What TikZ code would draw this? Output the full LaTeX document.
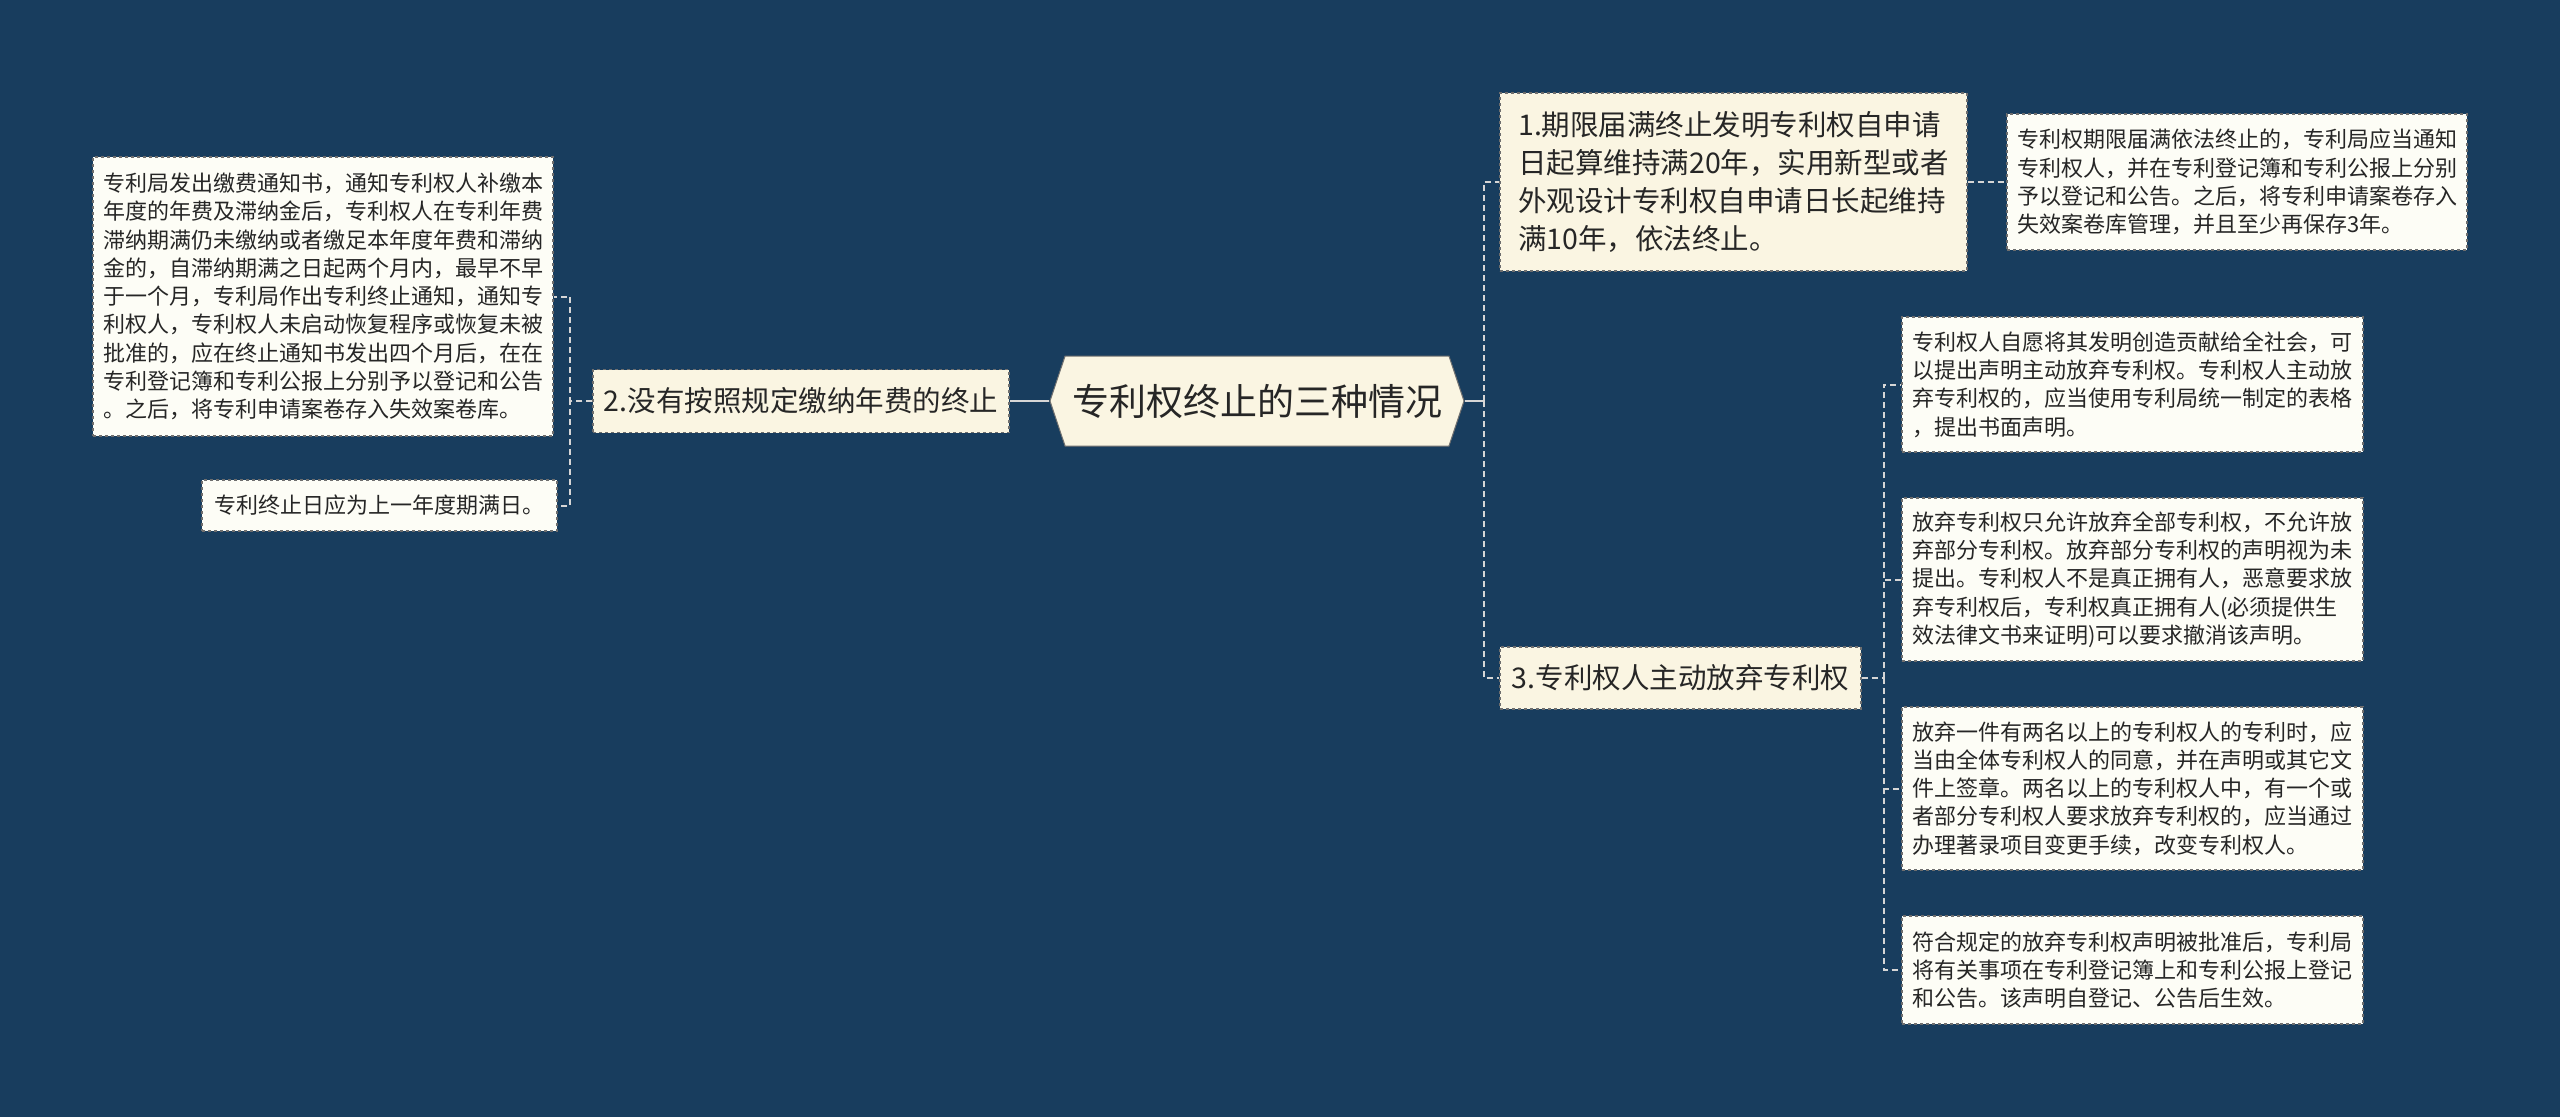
\documentclass[tikz,border=0pt]{standalone}
\usepackage{fontspec}
\newfontfamily\cjk{Noto Sans CJK SC}
\usetikzlibrary{shapes.symbols}
\definecolor{bgnavy}{RGB}{24,61,94}
\definecolor{nodecream}{RGB}{250,245,226}
\definecolor{leafcream}{RGB}{253,253,246}
\definecolor{edgegray}{RGB}{110,110,110}
\definecolor{linkgray}{RGB}{214,214,214}
\definecolor{textdark}{RGB}{38,38,38}
\tikzset{
  rootbox/.style={signal, signal to=west and east, signal pointer angle=143, draw=edgegray, line width=1pt, fill=nodecream, text=textdark, inner sep=0pt, minimum width=414, minimum height=90, font=\cjk\fontsize{37}{44}\selectfont},
  topic/.style={draw=edgegray, dashed, line width=1.2pt, fill=nodecream, text=textdark, align=left, inner sep=0pt, font=\cjk\fontsize{28.5}{38}\selectfont},
  leaf/.style={draw=edgegray, dashed, line width=1.2pt, fill=leafcream, text=textdark, align=left, inner sep=0pt, font=\cjk\fontsize{22}{28.3}\selectfont},
  link/.style={draw=linkgray, line width=2pt, dash pattern=on 6pt off 4pt},
  solidlink/.style={draw=linkgray, line width=2.5pt}
}
\begin{document}
\begin{tikzpicture}[x=1pt,y=1pt]
  \fill[bgnavy] (0,0) rectangle (2560,-1117);
  % centre
  \node[rootbox] (root) at (1257,-401) {专利权终止的三种情况};
  % left branch
  \node[topic, minimum width=416, minimum height=63] (late) at (801,-401) {2.没有按照规定缴纳年费的终止};
  \node[leaf, minimum width=460, minimum height=279] (lateA) at (323,-296.5) {专利局发出缴费通知书，通知专利权人补缴本\\年度的年费及滞纳金后，专利权人在专利年费\\滞纳期满仍未缴纳或者缴足本年度年费和滞纳\\金的，自滞纳期满之日起两个月内，最早不早\\于一个月，专利局作出专利终止通知，通知专\\利权人，专利权人未启动恢复程序或恢复未被\\批准的，应在终止通知书发出四个月后，在在\\专利登记簿和专利公报上分别予以登记和公告\\。之后，将专利申请案卷存入失效案卷库。};
  \node[leaf, minimum width=355, minimum height=51] (lateB) at (379.5,-505.5) {专利终止日应为上一年度期满日。};
  % right branch, first topic
  \node[topic, minimum width=467, minimum height=178] (expire) at (1733.5,-182) {1.期限届满终止发明专利权自申请\\日起算维持满20年，实用新型或者\\外观设计专利权自申请日长起维持\\满10年，依法终止。};
  \node[leaf, minimum width=460, minimum height=136] (expireA) at (2237,-182) {专利权期限届满依法终止的，专利局应当通知\\专利权人，并在专利登记簿和专利公报上分别\\予以登记和公告。之后，将专利申请案卷存入\\失效案卷库管理，并且至少再保存3年。};
  % right branch, third topic
  \node[topic, minimum width=361, minimum height=62] (waive) at (1680.5,-678) {3.专利权人主动放弃专利权};
  \node[leaf, minimum width=461, minimum height=135] (waiveA) at (2132.5,-384.5) {专利权人自愿将其发明创造贡献给全社会，可\\以提出声明主动放弃专利权。专利权人主动放\\弃专利权的，应当使用专利局统一制定的表格\\，提出书面声明。};
  \node[leaf, minimum width=461, minimum height=163] (waiveB) at (2132.5,-579.5) {放弃专利权只允许放弃全部专利权，不允许放\\弃部分专利权。放弃部分专利权的声明视为未\\提出。专利权人不是真正拥有人，恶意要求放\\弃专利权后，专利权真正拥有人(必须提供生\\效法律文书来证明)可以要求撤消该声明。};
  \node[leaf, minimum width=461, minimum height=163] (waiveC) at (2132.5,-788.5) {放弃一件有两名以上的专利权人的专利时，应\\当由全体专利权人的同意，并在声明或其它文\\件上签章。两名以上的专利权人中，有一个或\\者部分专利权人要求放弃专利权的，应当通过\\办理著录项目变更手续，改变专利权人。};
  \node[leaf, minimum width=461, minimum height=108] (waiveD) at (2132.5,-970) {符合规定的放弃专利权声明被批准后，专利局\\将有关事项在专利登记簿上和专利公报上登记\\和公告。该声明自登记、公告后生效。};
  % connectors
  \draw[solidlink] (root.west) -- (late.east);
  \draw[link] (late.west) -- ++(-22,0) |- (lateA.east);
  \draw[link] (late.west) -- ++(-22,0) |- (lateB.east);
  \draw[solidlink] (root.east) -- ++(19,0) coordinate (rj);
  \draw[link] (rj) |- (expire.west);
  \draw[link] (rj) |- (waive.west);
  \draw[link] (expire.east) -- (expireA.west);
  \draw[link] (waive.east) -- ++(22,0) coordinate (wj);
  \draw[link] (wj) |- (waiveA.west);
  \draw[link] (wj) |- (waiveB.west);
  \draw[link] (wj) |- (waiveC.west);
  \draw[link] (wj) |- (waiveD.west);
\end{tikzpicture}
\end{document}
